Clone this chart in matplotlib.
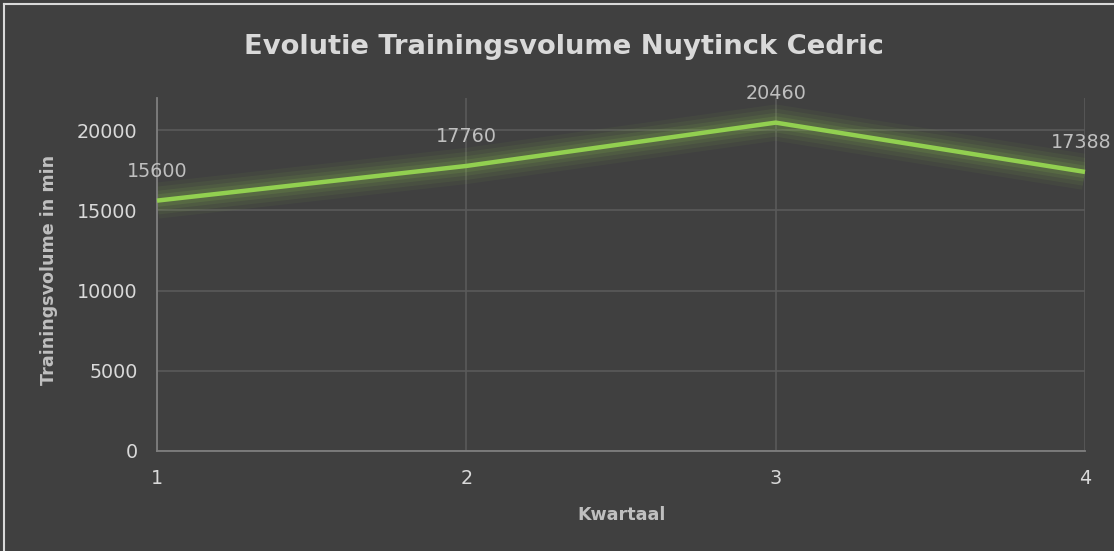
import matplotlib
matplotlib.use("Agg")
import matplotlib.pyplot as plt

quarters = [1, 2, 3, 4]
volume = [15600, 17760, 20460, 17388]
yticks = [0, 5000, 10000, 15000, 20000]
title = "Evolutie Trainingsvolume Nuytinck Cedric"
xlabel = "Kwartaal"
ylabel = "Trainingsvolume in min"

BG = "#404040"
plt.rcParams['font.family'] = ['DejaVu Sans']

fig = plt.figure(figsize=(11.14, 5.51), dpi=100, facecolor=BG)
ax = fig.add_axes([157/1114, 1-451/551, (1085-157)/1114, (451-97.9)/551])
ax.set_facecolor(BG)

# glow
for lw, a in [(26, 0.05), (20, 0.07), (14, 0.09), (9, 0.12)]:
    ax.plot(quarters, volume, color="#92d050", lw=lw, alpha=a,
            solid_capstyle="butt", zorder=2)
ax.plot(quarters, volume, color="#92d050", lw=3.2, zorder=3,
        solid_capstyle="butt", solid_joinstyle="miter", clip_on=False)

ax.set_xlim(1, 4)
ax.set_ylim(0, 22000)
ax.set_xticks(quarters)
ax.set_yticks(yticks)
ax.grid(True, color="#5a5a5a", lw=1.2)
ax.set_axisbelow(True)
for s in ["top", "right"]:
    ax.spines[s].set_visible(False)
for s in ["left", "bottom"]:
    ax.spines[s].set_color("#7f7f7f")
    ax.spines[s].set_linewidth(1.3)
ax.tick_params(length=0, colors="#d9d9d9", labelsize=13.8)
ax.tick_params(axis="y", pad=14)
ax.tick_params(axis="x", pad=13)

offsets = [0, 0, 0, -3]
for x, v, dx in zip(quarters, volume, offsets):
    ax.annotate(str(v), (x, v), xytext=(dx, 21), textcoords="offset points",
                ha="center", va="center", color="#bfbfbf", fontsize=13.8,
                annotation_clip=False)

fig.text(564/1114, 1-47/551, title, ha="center", va="center",
         fontsize=19.7, fontweight="bold", color="#d9d9d9")
fig.text(622/1114, 1-515/551, xlabel, ha="center", va="center",
         fontsize=12.6, fontweight="bold", color="#bfbfbf")
fig.text(49/1114, 1-270/551, ylabel, ha="center", va="center", rotation=90,
         fontsize=12.6, fontweight="bold", color="#bfbfbf")

# border on left/top
fig.add_artist(plt.Line2D([3.5/1114, 3.5/1114], [0, 1-3.5/551],
                          transform=fig.transFigure, color="#d9d9d9", lw=1.5))
fig.add_artist(plt.Line2D([3.5/1114, 1], [1-3.5/551, 1-3.5/551],
                          transform=fig.transFigure, color="#d9d9d9", lw=1.5))

fig.savefig("out.png", dpi=100, facecolor=BG)
